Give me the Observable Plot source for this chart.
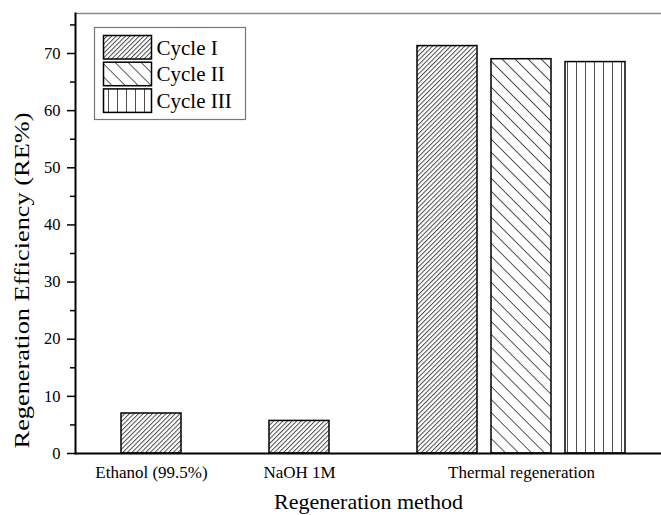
<!DOCTYPE html>
<html>
<head>
<meta charset="utf-8">
<script src="https://cdn.jsdelivr.net/npm/d3@7"></script>
<script src="https://cdn.jsdelivr.net/npm/@observablehq/plot@0.6"></script>
<style>
  html, body { margin: 0; padding: 0; background: #fff; overflow: hidden; }
</style>
</head>
<body>
<div id="chart"></div>
<script>
// Regeneration efficiency (RE%) per regeneration method and cycle
const methods = ["Ethanol (99.5%)", "NaOH 1M", "Thermal regeneration"];
const cycles = ["Cycle I", "Cycle II", "Cycle III"];
const ethanolRE = [7.0];
const naohRE = [5.7];
const thermalRE = [71.3, 69.0, 68.5];
const yTicks = [0, 10, 20, 30, 40, 50, 60, 70];
const yMinorTicks = [5, 15, 25, 35, 45, 55, 65, 75];
const yMax = 77;
const xTitle = "Regeneration method";
const yTitle = "Regeneration Efficiency (RE%)";

const efficiency = [ethanolRE, naohRE, thermalRE];
const hatchIds = ["hatch-cycle1", "hatch-cycle2", "hatch-cycle3"];

// Bars of one method sit side by side; an empty slot separates methods.
const rows = [];
const methodTicks = [];
let slot = 1;
methods.forEach((m, i) => {
  const first = slot;
  efficiency[i].forEach((v, j) => rows.push({method: m, cycle: cycles[j], value: v, slot: slot++}));
  methodTicks.push({slot: (first + slot - 1) / 2, method: m});
  slot++;
});
const slots = d3.range(1, slot - 1);
const tickName = new Map(methodTicks.map(t => [t.slot, t.method]));

const serif = "'Liberation Serif', 'Times New Roman', serif";

const plot = Plot.plot({
  width: 661,
  height: 515,
  marginTop: 13,
  marginBottom: 62,
  marginLeft: 75,
  marginRight: 0,
  style: {fontFamily: serif, fontSize: "16px", color: "black", background: "white"},
  x: {type: "band", domain: slots, range: [75, 672], paddingInner: 0.187, paddingOuter: 0.589, axis: null},
  y: {domain: [0, yMax], axis: null},
  color: {domain: cycles, range: hatchIds.map(id => `url(#${id})`)},
  marks: [
    Plot.barY(rows, {x: "slot", y: "value", fill: "cycle", stroke: "black", strokeWidth: 1.5}),
    Plot.ruleY([yMax], {stroke: "#8a8a8a", strokeWidth: 1.5}),
    Plot.ruleY([0], {stroke: "black", strokeWidth: 2}),
    Plot.frame({anchor: "left", stroke: "black", strokeWidth: 2}),
    Plot.axisY({ticks: yTicks, tickSize: 8, tickPadding: 7, strokeWidth: 1.5, fontSize: 16.5, label: null}),
    Plot.axisY({ticks: yMinorTicks, tickSize: 5, tickFormat: () => "", strokeWidth: 1.5, label: null}),
    Plot.axisX({ticks: methodTicks.map(t => t.slot), tickSize: 0, tickPadding: 12,
                tickFormat: s => tickName.get(s), fontSize: 17, label: null}),
    Plot.text([xTitle], {frameAnchor: "bottom", textAnchor: "middle", lineAnchor: "middle",
                         dy: 48, fontSize: 22, fill: "black"}),
    Plot.text([yTitle], {frameAnchor: "left", textAnchor: "middle", lineAnchor: "middle",
                         rotate: -90, dx: -53, dy: 47, fontSize: 21, fill: "black"})
  ]
});

const svg = d3.select(plot);

// Hatch patterns: dense "/" lines, wide "\" lines, vertical lines
const defs = svg.insert("defs", ":first-child");
const hatch = [
  {id: hatchIds[0], spacing: 3.25, rotate: 45},
  {id: hatchIds[1], spacing: 9.2, rotate: -45},
  {id: hatchIds[2], spacing: 9, rotate: 0}
];
hatch.forEach(h => {
  const p = defs.append("pattern")
    .attr("id", h.id)
    .attr("patternUnits", "userSpaceOnUse")
    .attr("width", h.spacing)
    .attr("height", 10)
    .attr("patternTransform", `rotate(${h.rotate})`);
  p.append("rect").attr("width", h.spacing).attr("height", 10).attr("fill", "white");
  p.append("line")
    .attr("x1", 0.5).attr("x2", 0.5).attr("y1", 0).attr("y2", 10)
    .attr("stroke", "#3a3a3a").attr("stroke-width", 0.9);
});

// Legend box with hatched swatches
const legend = svg.append("g").attr("font-family", serif).attr("text-anchor", "start");
legend.append("rect")
  .attr("x", 94.5).attr("y", 27.5).attr("width", 151).attr("height", 92)
  .attr("fill", "white").attr("stroke", "#777").attr("stroke-width", 1.2);
cycles.forEach((c, i) => {
  const y = 35.5 + i * 26.7;
  legend.append("rect")
    .attr("x", 103.5).attr("y", y).attr("width", 48).attr("height", 23.5)
    .attr("fill", `url(#${hatchIds[i]})`).attr("stroke", "black").attr("stroke-width", 1.5);
  legend.append("text")
    .attr("x", 156.5).attr("y", y + 11.75).attr("dy", "0.35em")
    .attr("font-size", 21).attr("fill", "black").text(c);
});

document.getElementById("chart").append(plot);

// Stretch the y-axis title along its line, keeping it centred
svg.selectAll("text").filter(function() { return this.textContent === yTitle; })
  .each(function() {
    const k = 336 / this.getComputedTextLength();
    const t = this.getAttribute("transform") || "";
    this.setAttribute("transform", `${t} scale(${k},1)`);
  });
</script>
</body>
</html>
